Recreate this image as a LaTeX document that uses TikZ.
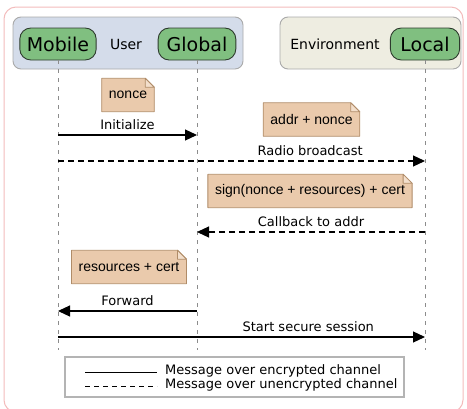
\documentclass[tikz,border=0pt]{standalone}
\usepackage{fontspec}
\setmainfont{DejaVu Sans}
\newfontfamily\notefont{Liberation Sans}
\usepackage{tikz}
\usepackage{xcolor}
\usetikzlibrary{backgrounds}
\usetikzlibrary{positioning, arrows.meta}

\definecolor{framepink}{HTML}{F3BCBC}
\definecolor{userblue}{HTML}{D4DCEA}
\definecolor{envbeige}{HTML}{EEEDE1}
\definecolor{groupgray}{HTML}{A9A9A9}
\definecolor{actorgreen}{HTML}{80BF80}
\definecolor{actorline}{HTML}{2E3B2E}
\definecolor{notefill}{HTML}{EACAAC}
\definecolor{noteline}{HTML}{B08C68}
\definecolor{notefold}{HTML}{F3DFCC}
\definecolor{lifegray}{HTML}{8C8C8C}
\definecolor{legendgray}{HTML}{B4B4B4}

% paper with a folded corner behind a note node
\newcommand{\notepaper}[1]{%
  \begin{scope}[on background layer]
    \filldraw[fill=notefill, draw=noteline, line width=0.8pt, line join=round]
      (#1.south west) -- (#1.north west) -- ([xshift=-9pt]#1.north east)
      -- ([yshift=-9pt]#1.north east) -- (#1.south east) -- cycle;
    \filldraw[fill=notefold, draw=noteline, line width=0.8pt, line join=round]
      ([xshift=-9pt]#1.north east) |- ([yshift=-9pt]#1.north east) -- cycle;
  \end{scope}}

\begin{document}
\begin{tikzpicture}[x=1pt, y=-1pt]
  % Define the styles for the diagram
  \tikzstyle{group}=[draw=groupgray, line width=0.9pt, rounded corners=8pt, inner sep=0pt];
  \tikzstyle{actor}=[draw=actorline, fill=actorgreen, line width=0.9pt, rounded corners=11pt,
                     minimum height=32pt, inner xsep=7pt, font=\fontsize{19}{21}\selectfont];
  \tikzstyle{grouplabel}=[font=\fontsize{14}{16}\selectfont];
  \tikzstyle{lifeline}=[draw=lifegray, line width=0.7pt, dash pattern=on 4pt off 5pt];
  \tikzstyle{note}=[font=\notefont\fontsize{14}{16}\selectfont, inner xsep=7pt, minimum height=33pt];
  \tikzstyle{msg}=[line width=1.2pt, -{Triangle[length=12pt, width=11pt]}];
  \tikzstyle{plain msg}=[msg];
  \tikzstyle{radio msg}=[msg, dash pattern=on 6pt off 4pt];
  \tikzstyle{msglabel}=[font=\fontsize{13}{15}\selectfont, above=4pt, inner sep=1pt];

  \useasboundingbox (0,0) rectangle (467,408);

  % Outer frame
  \draw[framepink, line width=1pt, rounded corners=12pt] (4,7) rectangle (463,412);

  % Groups with their actors
  \node[group, fill=userblue, minimum width=230pt, minimum height=52pt] (user) at (128,43) {};
  \node[group, fill=envbeige, minimum width=181pt, minimum height=52pt] (env) at (370.5,43) {};
  \node[grouplabel] (userlabel) at (126,44) {User};
  \node[grouplabel] (envlabel) at (335,44) {Environment};
  \node[actor] (mobile) at (58,44) {Mobile};
  \node[actor, inner xsep=8.5pt] (global) at (197,44) {Global};
  \node[actor, inner xsep=10pt] (local) at (425,44) {Local};

  % Lifelines
  \coordinate (bottom) at (0,350);
  \draw[lifeline] (mobile) -- (mobile |- bottom);
  \draw[lifeline] (global) -- (global |- bottom);
  \draw[lifeline] (local) -- (local |- bottom);

  % Rows of the messages
  \coordinate (init) at (0,135);
  \coordinate (radio) at (0,161);
  \coordinate (callback) at (0,232);
  \coordinate (forward) at (0,311);
  \coordinate (session) at (0,337);

  % Data carried by the messages
  \node[note] (nonce) at (128,95) {nonce};
  \notepaper{nonce}
  \node[note] (addrnonce) at (311.5,119.5) {addr + nonce};
  \notepaper{addrnonce}
  \node[note] (signed) at (310,191) {sign(nonce + resources) + cert};
  \notepaper{signed}
  \node[note] (rescert) at (129,267) {resources + cert};
  \notepaper{rescert}

  % Messages
  \draw[plain msg] (mobile |- init) -- node[msglabel] {Initialize} (global |- init);
  \draw[radio msg] (mobile |- radio) -- node[msglabel, pos=0.687] {Radio broadcast} (local |- radio);
  \draw[radio msg] (local |- callback) -- node[msglabel] {Callback to addr} (global |- callback);
  \draw[plain msg] (global |- forward) -- node[msglabel] {Forward} (mobile |- forward);
  \draw[plain msg] (mobile |- session) -- node[msglabel, pos=0.682] {Start secure session} (local |- session);

  % Legend
  \node[draw=legendgray, line width=1.8pt, minimum width=339pt, minimum height=40pt] (legend) at (234.5,377) {};
  \node[font=\fontsize{13}{15}\selectfont, anchor=west, inner sep=0pt] (enc) at (165,371) {Message over encrypted channel};
  \node[font=\fontsize{13}{15}\selectfont, anchor=west, inner sep=0pt] (unenc) at (165,385) {Message over unencrypted channel};
  \coordinate (encstart) at (85,372);
  \coordinate (unencstart) at (85,386);
  \draw[line width=1pt] (encstart) -- ([xshift=-8pt]encstart -| enc.west);
  \draw[line width=1pt, dash pattern=on 5pt off 4pt] (unencstart) -- ([xshift=-8pt]unencstart -| unenc.west);
\end{tikzpicture}
\end{document}
